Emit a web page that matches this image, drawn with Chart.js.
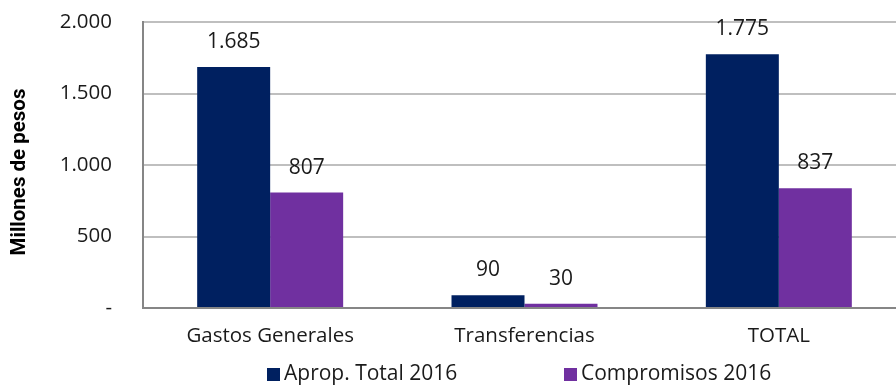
<!DOCTYPE html>
<html>
<head>
<meta charset="utf-8">
<script src="https://cdn.jsdelivr.net/npm/chart.js@4/dist/chart.umd.min.js"></script>
<style>
  html, body { margin: 0; padding: 0; background: #fff; overflow: hidden; }
  #wrap { position: relative; width: 906px; height: 386px; }
  #legend { position: absolute; left: 0; top: 358px; width: 906px; height: 28px;
            font-family: "Open Sans", sans-serif; font-size: 21px; color: #1a1a1a; }
  .item { position: absolute; top: 0; white-space: nowrap; line-height: 28px; }
  .sw { display: inline-block; width: 13px; height: 13px; margin-right: 4px; vertical-align: -1px; }
</style>
</head>
<body>
<div id="wrap">
  <canvas id="c" width="906" height="386"></canvas>
  <div id="legend"></div>
</div>
<script>
// Budget execution by item, millions of pesos
const categories = ['Gastos Generales', 'Transferencias', 'TOTAL'];
const seriesNames = ['Aprop. Total 2016', 'Compromisos 2016'];
const apropTotal = [1685, 90, 1775];
const compromisos = [807, 30, 837];
const yTicks = [0, 500, 1000, 1500, 2000];
const yTitle = 'Millones de pesos';

const colors = ['#002060', '#7030A0'];
const FONT = '"Open Sans", sans-serif';

function fmt(v) {
  if (v === 0) return '-';
  return String(Math.round(v)).replace(/\B(?=(\d{3})+(?!\d))/g, '.');
}

// draws each bar's value above it, and the rotated y-axis title
const annotations = {
  id: 'annotations',
  afterDatasetsDraw(chart) {
    const ctx = chart.ctx;
    ctx.save();
    ctx.font = '21px ' + FONT;
    ctx.fillStyle = '#1a1a1a';
    ctx.textAlign = 'center';
    ctx.textBaseline = 'middle';
    chart.data.datasets.forEach((ds, i) => {
      chart.getDatasetMeta(i).data.forEach((bar, j) => {
        ctx.fillText(fmt(ds.data[j]), bar.x, bar.y - 25);
      });
    });
    ctx.translate(20, 172);
    ctx.rotate(-Math.PI / 2);
    ctx.fillStyle = '#000';
    ctx.font = 'bold 20.5px "Liberation Sans Narrow", Roboto, sans-serif';
    ctx.fillText(yTitle, 0, 0);
    ctx.restore();
  }
};

const chart = new Chart(document.getElementById('c'), {
  type: 'bar',
  data: {
    labels: categories,
    datasets: [
      { label: seriesNames[0], data: apropTotal, backgroundColor: colors[0] },
      { label: seriesNames[1], data: compromisos, backgroundColor: colors[1] }
    ]
  },
  options: {
    responsive: false,
    animation: false,
    devicePixelRatio: 1,
    layout: { padding: { top: 22, right: 0, bottom: 0, left: 0 } },
    datasets: { bar: { barPercentage: 1, categoryPercentage: 0.574, borderWidth: 0 } },
    plugins: { legend: { display: false }, tooltip: { enabled: false } },
    scales: {
      x: {
        grid: { display: false, drawTicks: false },
        border: { color: '#868686', width: 2 },
        ticks: { color: '#1a1a1a', font: { family: FONT, size: 20.5 }, padding: 16 },
        afterFit(s) { s.height = 78; s.paddingLeft = 0; s.paddingRight = 0; }
      },
      y: {
        min: 0, max: 2000,
        afterBuildTicks(s) { s.ticks = yTicks.map(v => ({ value: v })); },
        grid: { color: '#bfbfbf', lineWidth: 2, drawTicks: false },
        border: { color: '#868686', width: 2 },
        ticks: { color: '#1a1a1a', font: { family: FONT, size: 20.5 }, padding: 31,
                 callback: v => fmt(v) },
        afterFit(s) { s.width = 143; s.paddingTop = 0; s.paddingBottom = 0; }
      }
    }
  },
  plugins: [annotations]
});

// legend
const legend = document.getElementById('legend');
const legendX = [267, 564];
seriesNames.forEach((name, i) => {
  const d = document.createElement('div');
  d.className = 'item';
  d.style.left = legendX[i] + 'px';
  d.innerHTML = '<span class="sw" style="background:' + colors[i] + '"></span>' + name;
  legend.appendChild(d);
});
</script>
</body>
</html>
